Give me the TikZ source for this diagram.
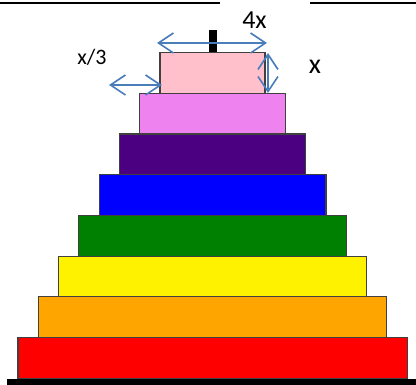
\documentclass[tikz,border=0pt]{standalone}
\usepackage{fontspec}
\setmainfont{Carlito}
\usepackage{tikz}
\usetikzlibrary{arrows.meta,positioning}
\definecolor{dimblue}{RGB}{74,126,187}
\definecolor{indigo}{RGB}{75,0,130}
\definecolor{webgreen}{RGB}{0,128,0}
\definecolor{weborange}{RGB}{255,165,0}
\definecolor{webviolet}{RGB}{238,130,238}
\definecolor{webpink}{RGB}{255,192,203}

\begin{document}
\begin{tikzpicture}[x=1pt,y=-1pt,node distance=0pt,
  disk/.style={draw=black!75,line width=1.2pt,minimum height=40.7pt,
               inner sep=0pt,outer sep=0pt},
  dim/.style={{Straight Barb[length=15pt,width=20pt]}-{Straight Barb[length=15pt,width=20pt]},
              dimblue,line width=1.6pt},
  lbl/.style={inner sep=0pt,font=\fontsize{26}{30}\selectfont}]
  \useasboundingbox (0,0) rectangle (416,385);
  % top rules
  \draw[line width=2pt] (0,3) -- (220,3);
  \draw[line width=2pt] (310,3) -- (416,3);
  % disks, smallest on top
  \node[disk,fill=webpink,minimum width=105pt] (pink) at (212.5,73) {};
  \node[disk,fill=webviolet,minimum width=145.6pt,below=of pink] (violet) {};
  \node[disk,fill=indigo,minimum width=186.2pt,below=of violet] (ind) {};
  \node[disk,fill=blue,minimum width=226.8pt,below=of ind] (blu) {};
  \node[disk,fill=webgreen,minimum width=267.4pt,below=of blu] (grn) {};
  \node[disk,fill=yellow,minimum width=308pt,below=of grn] (yel) {};
  \node[disk,fill=weborange,minimum width=348.6pt,below=of yel] (orn) {};
  \node[disk,fill=red,minimum width=389.2pt,below=of orn] (rd) {};
  % peg and base
  \node[fill=black,inner sep=0pt,minimum width=8pt,minimum height=22pt,above=of pink] (peg) {};
  \node[fill=black,inner sep=0pt,minimum width=409pt,minimum height=7pt,anchor=north west] (base) at (7,378.5) {};
  % dimensions
  \coordinate (topL) at (157,43);
  \coordinate (topR) at (267,43);
  \coordinate (sideL) at (109,85);
  \coordinate (sideR) at (162,85);
  \coordinate (hT) at (268,53);
  \coordinate (hB) at (268,93);
  \draw[dim] (topL) -- (topR);
  \draw[dim] (sideL) -- (sideR);
  \draw[dim] (hT) -- (hB);
  \node[lbl] (wd) at (254.5,20) {4x};
  \node[lbl,font=\fontsize{22}{26}\selectfont] (third) at (92,57) {x/3};
  \node[lbl,font=\fontsize{28}{32}\selectfont] (ht) at (315,67) {x};
\end{tikzpicture}
\end{document}
